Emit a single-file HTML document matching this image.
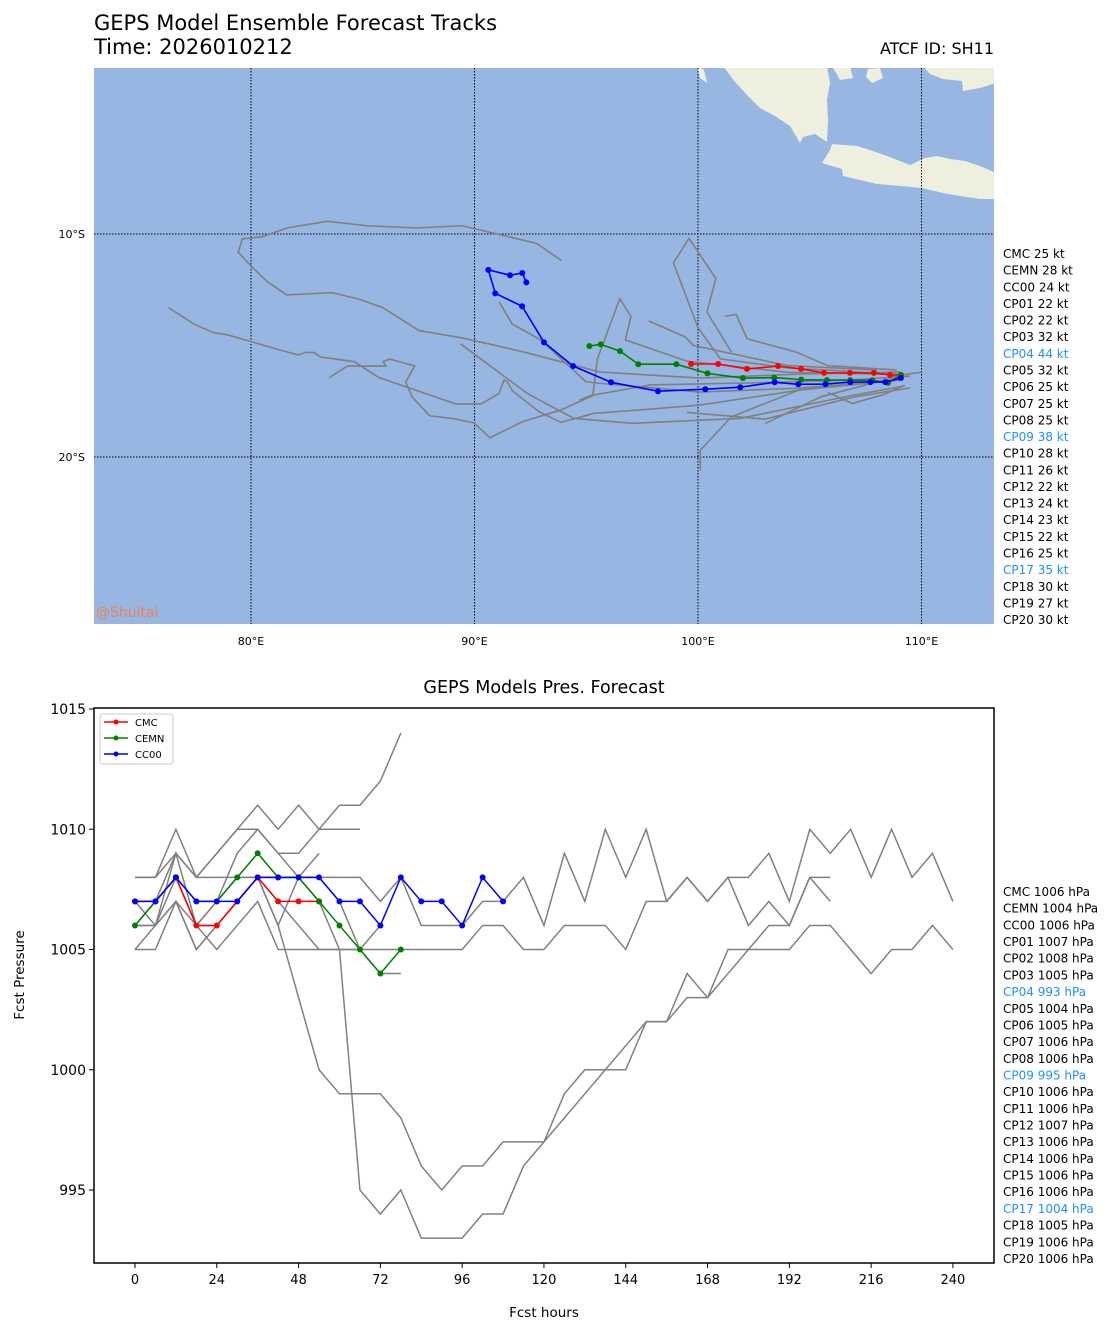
<!DOCTYPE html>
<html><head><meta charset="utf-8"><style>
html,body{margin:0;padding:0;background:#fff;}
svg{display:block;font-family:"DejaVu Sans","Liberation Sans",sans-serif;}
</style></head><body>
<svg id="root" width="1116" height="1335" viewBox="0 0 1116 1335" xmlns="http://www.w3.org/2000/svg">
<text x="94" y="30" font-size="21">GEPS Model Ensemble Forecast Tracks</text>
<text x="94" y="54" font-size="21">Time: 2026010212</text>
<text x="994" y="54" font-size="16" text-anchor="end">ATCF ID: SH11</text>
<g id="map">
<clipPath id="mc"><rect x="94" y="68" width="900" height="556"/></clipPath>
<rect x="94" y="68" width="900" height="556" fill="#97b6e1"/>
<g clip-path="url(#mc)" fill="#efefdf">
<polygon points="723,66 735,82 748,96 760,108 775,116 790,126 800,143 803,137 815,134 827,142 828,120 827,100 830,83 827,66"/>
<polygon points="822,163 830,150 832,144 857,146 870,150 887,156 910,165 925,158 937,156 950,159 965,161 980,166 996,173 996,199 980,199 960,196 943,193 922,188 900,186 877,184 860,180 843,176 842,169"/>
<polygon points="923,66 996,66 996,83 980,88 963,91 962,81 943,79 930,74"/>
<polygon points="868,69 880,68 883,78 872,83 866,77"/>
<polygon points="832,66 850,66 853,78 840,80"/>
<polygon points="697,66 704,70 707,83 700,78"/>
</g>
<g id="grid"></g>
<g id="tracks" clip-path="url(#mc)"></g>
<text x="96" y="617" font-size="14" fill="#f08050">@Shuitai</text>
</g>
<g id="intlist"></g>
<g id="pchart">
<text x="544" y="693" font-size="17.5" text-anchor="middle">GEPS Models Pres. Forecast</text>
<g id="plines"></g>
<rect x="94" y="708" width="900" height="555" fill="none" stroke="#000" stroke-width="1.5"/>
<g id="paxes"></g>
<text x="544" y="1317" font-size="13.5" text-anchor="middle">Fcst hours</text>
<text x="24" y="975" font-size="13.5" text-anchor="middle" transform="rotate(-90 24 975)">Fcst Pressure</text>
<g>
<rect x="100" y="714" width="73" height="50" rx="3" fill="#fff" stroke="#ccc"/>
<line x1="104" y1="722" x2="128" y2="722" stroke="red" stroke-width="1.5"/><circle cx="116" cy="722" r="2.5" fill="red"/>
<text x="135" y="726" font-size="10">CMC</text>
<line x1="104" y1="738" x2="128" y2="738" stroke="green" stroke-width="1.5"/><circle cx="116" cy="738" r="2.5" fill="green"/>
<text x="135" y="742" font-size="10">CEMN</text>
<line x1="104" y1="754" x2="128" y2="754" stroke="blue" stroke-width="1.5"/><circle cx="116" cy="754" r="2.5" fill="blue"/>
<text x="135" y="758" font-size="10">CC00</text>
</g>
</g>
<g id="plist"></g>
</svg>
<script>
const NS="http://www.w3.org/2000/svg";
// ---- map data (lon, lat) ----
const trackCMC=[[109.08,-16.32],[108.59,-16.32],[107.87,-16.23],[106.8,-16.23],[105.64,-16.23],[104.61,-16.05],[103.58,-15.92],[102.19,-16.05],[100.9,-15.83],[99.69,-15.83]];
const trackCEMN=[[109.08,-16.32],[108.5,-16.67],[107.8,-16.56],[106.81,-16.55],[105.77,-16.55],[104.62,-16.53],[103.41,-16.44],[102.01,-16.46],[100.42,-16.25],[99.03,-15.84],[97.33,-15.84],[96.51,-15.25],[95.65,-14.95],[95.14,-15.02]];
const trackCC00=[[109.08,-16.46],[108.38,-16.64],[107.71,-16.64],[106.81,-16.64],[105.7,-16.73],[104.49,-16.74],[103.43,-16.65],[101.89,-16.87],[100.33,-16.96],[98.21,-17.05],[96.11,-16.65],[94.41,-15.92],[93.11,-14.86],[92.13,-13.24],[90.93,-12.66],[90.62,-11.61],[91.59,-11.85],[92.14,-11.75],[92.32,-12.17]];
const grayTracks=[
[[109.04,-16.19],[104.56,-16.28],[100.09,-16.46],[95.62,-16.19],[92.44,-15.35],[90.87,-14.98],[89.38,-14.65],[87.52,-14.33],[85.89,-13.3],[84.83,-12.92],[83.61,-12.63],[81.6,-12.73],[80.73,-12.14],[79.99,-11.42],[79.43,-10.82],[79.61,-10.22],[80.51,-10.12],[81.6,-9.73],[83.41,-9.43],[85.2,-9.63],[87.41,-9.73],[89.43,-9.63],[92.78,-10.42],[93.9,-11.2]],
[[109.04,-16.55],[104.56,-17.0],[100.09,-17.67],[97.4,-17.89],[95.35,-18.04],[93.86,-18.45],[92.89,-17.97],[91.69,-17.03],[91.47,-16.63],[91.32,-16.55],[91.1,-17.15],[90.3,-17.62],[89.16,-17.62],[85.73,-16.44],[84.61,-15.72],[83.12,-15.52],[82.82,-15.31],[82.45,-15.31],[82.1,-15.42],[81.25,-15.19],[79.99,-14.82],[78.94,-14.52],[78.31,-14.42],[77.45,-14.04],[76.3,-13.3]],
[[109.49,-16.37],[106.8,-16.55],[102.33,-16.68],[97.85,-16.77],[95.35,-17.22],[93.86,-17.89],[92.14,-18.42],[90.69,-19.14],[89.98,-18.47],[89.01,-18.27],[87.99,-18.15],[87.22,-17.32],[86.92,-16.65],[87.32,-15.92],[86.22,-15.61],[85.91,-15.72],[86.03,-15.92],[84.31,-15.92],[83.5,-16.44]],
[[109.26,-16.81],[106.8,-17.26],[101.88,-18.27],[97.05,-18.49],[94.45,-18.27],[92.36,-17.15],[89.38,-14.93]],
[[109.04,-16.55],[104.56,-16.91],[100.09,-17.09],[95.35,-16.67],[94.98,-16.62],[92.96,-14.75],[91.69,-14.04],[91.1,-13.04]],
[[109.0,-16.3],[104.0,-16.0],[101.0,-15.6],[100.0,-14.2],[98.9,-11.3],[99.6,-10.2],[100.8,-12.0],[100.4,-13.5],[101.5,-15.3]],
[[109.0,-16.3],[104.0,-16.2],[99.5,-15.7],[96.75,-14.75],[97.0,-13.7],[96.5,-12.9],[95.5,-15.6],[95.3,-17.2],[94.7,-17.45]],
[[108.0,-16.1],[104.0,-15.9],[99.8,-15.0],[99.4,-14.6],[97.8,-13.9]],
[[108.9,-16.1],[105.8,-15.9],[104.4,-15.3],[102.2,-14.7],[101.7,-13.6],[101.2,-13.7]],
[[108.0,-16.6],[104.5,-17.0],[101.5,-18.2],[100.1,-19.7],[100.1,-20.6]],
[[108.9,-16.4],[105.5,-17.3],[103.0,-18.5]],
[[109.2,-16.8],[108.3,-17.2],[106.9,-17.6],[105.8,-17.1]],
[[108.5,-16.4],[110.0,-16.2]],
[[99.5,-18.0],[103.0,-18.3],[107.0,-17.3],[109.5,-16.9]]
];
const lonTicks=[80,90,100,110];
const latTicks=[-10,-20];
const listNames=["CMC","CEMN","CC00","CP01","CP02","CP03","CP04","CP05","CP06","CP07","CP08","CP09","CP10","CP11","CP12","CP13","CP14","CP15","CP16","CP17","CP18","CP19","CP20"];
const listWinds=[25,28,24,22,22,32,44,32,25,25,25,38,28,26,22,24,23,22,25,35,30,27,30];
const listPres=[1006,1004,1006,1007,1008,1005,993,1004,1005,1006,1006,995,1006,1006,1007,1006,1006,1006,1006,1004,1005,1006,1006];
// ---- pressure data (6-hourly, starting hour 0) ----
const presCMC=[1007,1007,1008,1006,1006,1007,1008,1007,1007,1007];
const presCEMN=[1006,1007,1008,1007,1007,1008,1009,1008,1008,1007,1006,1005,1004,1005];
const presCC00=[1007,1007,1008,1007,1007,1007,1008,1008,1008,1008,1007,1007,1006,1008,1007,1007,1006,1008,1007];
const presGray=[
[1008,1008,1010,1008,1009,1010,1011,1010,1011,1010,1011,1011,1012,1014],
[1006,1007,1009,1008,1009,1010,1010,1009,1009,1010,1010,1010],
[1005,1006,1009,1006,1007,1009,1010,1009,1008,1009],
[1006,1006,1007,1005,1006,1007,1008,1006,1008,1008,1007,1005,1004,1004],
[1005,1005,1007,1006,1005,1006,1007,1005,1005,1005,1005,1005,1006],
[1008,1008,1009,1008,1008,1008,1008,1008,1008,1008,1008,1008,1007,1008,1006,1006,1006,1007,1007,1008,1006,1009,1007,1010,1008,1010,1007,1008,1007,1008,1008,1009,1007,1010,1009,1010,1008,1010,1008,1009,1007],
[1007,1006,1008,1006,1006,1007,1008,1006,1003,1000,999,999,999,998,996,995,996,996,997,997,997,999,1000,1000,1000,1002,1002,1004,1003,1005,1005,1005,1005,1006,1006,1005,1004,1005,1005,1006,1005],
[1006,1006,1007,1005,1006,1007,1008,1008,1008,1007,1005,995,994,995,993,993,993,994,994,996,997,998,999,1000,1001,1002,1002,1003,1003,1004,1005,1006,1006,1008,1008],
[1006,1007,1008,1006,1007,1008,1008,1007,1006,1005,1005,1005,1005,1005,1005,1005,1005,1006,1006,1005,1005,1006,1006,1006,1005,1007,1007,1008,1007,1008,1006,1007,1006,1008,1007]
];
const hourTicks=[0,24,48,72,96,120,144,168,192,216,240];
const presTicks=[995,1000,1005,1010,1015];

const lx=lon=>251+(lon-80)*22.35;
const ly=lat=>234+(-10-lat)*22.3;
const px=h=>135+h*3.408;
const py=p=>709+(1015-p)*24.05;
function mk(tag,attrs,parent){const e=document.createElementNS(NS,tag);for(const k in attrs)e.setAttribute(k,attrs[k]);parent.appendChild(e);return e;}

const grid=document.getElementById('grid');
lonTicks.forEach(v=>{
 const l=mk('line',{x1:lx(v),x2:lx(v),y1:68,y2:624,stroke:'#000','stroke-width':1,'stroke-dasharray':'1.5,1.5'},grid);
 
 
 const t=mk('text',{x:lx(v),y:645,'font-size':11,'text-anchor':'middle'},grid);
 t.textContent=v+'°E';
 
 
});
latTicks.forEach(v=>{
 const l=mk('line',{x1:94,x2:994,y1:ly(v),y2:ly(v),stroke:'#000','stroke-width':1,'stroke-dasharray':'1.5,1.5'},grid);
 
 
 const t=mk('text',{x:85,y:ly(v)+4,'font-size':11,'text-anchor':'end'},grid);
 t.textContent=(-v)+'°S';
 
 
});
const tg=document.getElementById('tracks');
grayTracks.forEach(tr=>{
 const p=mk('polyline',{points:tr.map(d=>lx(d[0])+','+ly(d[1])).join(' '),fill:'none',stroke:'#808080','stroke-width':1.6},tg);
 
 
});
[[trackCMC,'red','cmc-track'],[trackCEMN,'green','cemn-track'],[trackCC00,'blue','cc00-track']].forEach(([tr,c,n])=>{
 const p=mk('polyline',{points:tr.map(d=>lx(d[0])+','+ly(d[1])).join(' '),fill:'none',stroke:c,'stroke-width':1.6},tg);
 
 
 tr.forEach(d=>{const m=mk('circle',{cx:lx(d[0]),cy:ly(d[1]),r:3,fill:c},tg);
  
  });
});
const il=document.getElementById('intlist'), pl=document.getElementById('plist');
listNames.forEach((n,i)=>{
 const hi=(n==='CP04'||n==='CP09'||n==='CP17');
 const t=mk('text',{x:1003,y:258+i*16.64,'font-size':12,fill:hi?'#1e90ff':'#000'},il);
 t.textContent=n+' '+listWinds[i]+' kt';
 
 
 const u=mk('text',{x:1003,y:896+i*16.68,'font-size':12,fill:hi?'#1e90ff':'#000'},pl);
 u.textContent=n+' '+listPres[i]+' hPa';
 
 
});
const pg=document.getElementById('plines');
presGray.forEach(s=>{
 const p=mk('polyline',{points:s.map((v,i)=>px(i*6)+','+py(v)).join(' '),fill:'none',stroke:'#808080','stroke-width':1.5},pg);
 
 
});
[[presCMC,'red','cmc-pressure'],[presCEMN,'green','cemn-pressure'],[presCC00,'blue','cc00-pressure']].forEach(([s,c,n])=>{
 const p=mk('polyline',{points:s.map((v,i)=>px(i*6)+','+py(v)).join(' '),fill:'none',stroke:c,'stroke-width':1.5},pg);
 
 
 s.forEach((v,i)=>{const m=mk('circle',{cx:px(i*6),cy:py(v),r:3,fill:c},pg);
  
  });
});
const ax=document.getElementById('paxes');
hourTicks.forEach(h=>{
 const l=mk('line',{x1:px(h),x2:px(h),y1:1263,y2:1268,stroke:'#000'},ax);
 
 
 const t=mk('text',{x:px(h),y:1284,'font-size':13,'text-anchor':'middle'},ax);
 t.textContent=h;
 
 
});
presTicks.forEach(v=>{
 const l=mk('line',{x1:89,x2:94,y1:py(v),y2:py(v),stroke:'#000'},ax);
 
 
 const t=mk('text',{x:86,y:py(v)+5,'font-size':14,'text-anchor':'end'},ax);
 t.textContent=v;
 
 
});
</script>
</body></html>
